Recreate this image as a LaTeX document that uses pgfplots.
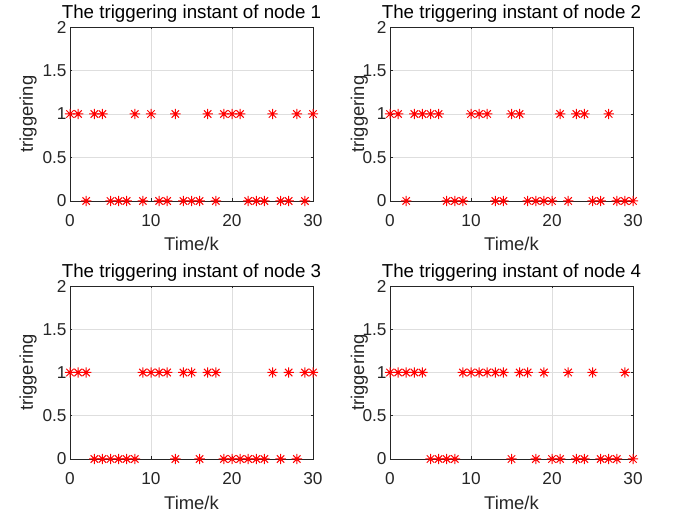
\documentclass[border=0pt]{standalone}
\usepackage{pgfplots}
\pgfplotsset{compat=1.18}
\usepackage{fontspec}
\setmainfont{Liberation Sans}
\definecolor{axgray}{rgb}{0.15,0.15,0.15}
\definecolor{gridgray}{rgb}{0.87,0.87,0.87}
\pgfdeclareplotmark{matast}{%
  \pgfpathmoveto{\pgfqpoint{-\pgfplotmarksize}{0pt}}%
  \pgfpathlineto{\pgfqpoint{\pgfplotmarksize}{0pt}}%
  \pgfpathmoveto{\pgfqpoint{0pt}{-\pgfplotmarksize}}%
  \pgfpathlineto{\pgfqpoint{0pt}{\pgfplotmarksize}}%
  \pgfpathmoveto{\pgfqpoint{-0.707\pgfplotmarksize}{-0.707\pgfplotmarksize}}%
  \pgfpathlineto{\pgfqpoint{0.707\pgfplotmarksize}{0.707\pgfplotmarksize}}%
  \pgfpathmoveto{\pgfqpoint{-0.707\pgfplotmarksize}{0.707\pgfplotmarksize}}%
  \pgfpathlineto{\pgfqpoint{0.707\pgfplotmarksize}{-0.707\pgfplotmarksize}}%
  \pgfusepathqstroke}
\pgfplotsset{trig/.style={
  scale only axis, width=243bp, height=174bp,
  xmin=0, xmax=30, ymin=0, ymax=2,
  xtick={0,10,20,30}, ytick={0,0.5,1,1.5,2},
  grid=major, major grid style={gridgray, line width=0.6bp},
  axis line style={axgray, line width=0.8bp},
  tick style={axgray, line width=0.8bp}, major tick length=2.5bp,
  tick align=inside,
  clip=false,
  /pgf/number format/assume math mode=true,
  tick label style={font=\fontsize{17.3}{20}\selectfont, text=axgray},
  xticklabel style={anchor=base, yshift=-26bp},
  label style={font=\fontsize{18.5}{22}\selectfont, text=axgray},
  title style={font=\fontsize{18.8}{22}\selectfont, text=black, anchor=base, at={(axis description cs:0.5,1)}, yshift=2.7bp},
  xlabel style={at={(axis description cs:0.5,0)}, anchor=base, yshift=-50bp},
  xlabel={Time/k}, ylabel={triggering},
},
trigmarks/.style={only marks, mark=matast, mark size=5.2bp, draw=red, color=red, line width=1bp, mark options={solid}}}
\begin{document}
\begin{tikzpicture}
\useasboundingbox (0,0) rectangle (673bp,517bp);
% node 1
\begin{axis}[trig, at={(70bp,316bp)}, anchor=south west,
  title={The triggering instant of node 1},
  ylabel style={at={([xshift=-37bp]axis description cs:0,0.5)}, anchor=base}]
\addplot[trigmarks] coordinates {(0,1)(1,1)(2,0)(3,1)(4,1)(5,0)(6,0)(7,0)(8,1)(9,0)(10,1)(11,0)(12,0)(13,1)(14,0)(15,0)(16,0)(17,1)(18,0)(19,1)(20,1)(21,1)(22,0)(23,0)(24,0)(25,1)(26,0)(27,0)(28,1)(29,0)(30,1)};
\end{axis}
% node 2
\begin{axis}[trig, at={(390bp,316bp)}, anchor=south west,
  title={The triggering instant of node 2},
  ylabel style={at={([xshift=-26bp]axis description cs:0,0.5)}, anchor=base}]
\addplot[trigmarks] coordinates {(0,1)(1,1)(2,0)(3,1)(4,1)(5,1)(6,1)(7,0)(8,0)(9,0)(10,1)(11,1)(12,1)(13,0)(14,0)(15,1)(16,1)(17,0)(18,0)(19,0)(20,0)(21,1)(22,0)(23,1)(24,1)(25,0)(26,0)(27,1)(28,0)(29,0)(30,0)};
\end{axis}
% node 3
\begin{axis}[trig, at={(70bp,58bp)}, anchor=south west, height=173bp,
  title={The triggering instant of node 3},
  ylabel style={at={([xshift=-37bp]axis description cs:0,0.5)}, anchor=base}]
\addplot[trigmarks] coordinates {(0,1)(1,1)(2,1)(3,0)(4,0)(5,0)(6,0)(7,0)(8,0)(9,1)(10,1)(11,1)(12,1)(13,0)(14,1)(15,1)(16,0)(17,1)(18,1)(19,0)(20,0)(21,0)(22,0)(23,0)(24,0)(25,1)(26,0)(27,1)(28,0)(29,1)(30,1)};
\end{axis}
% node 4
\begin{axis}[trig, at={(390bp,58bp)}, anchor=south west, height=173bp,
  title={The triggering instant of node 4},
  ylabel style={at={([xshift=-26bp]axis description cs:0,0.5)}, anchor=base}]
\addplot[trigmarks] coordinates {(0,1)(1,1)(2,1)(3,1)(4,1)(5,0)(6,0)(7,0)(8,0)(9,1)(10,1)(11,1)(12,1)(13,1)(14,1)(15,0)(16,1)(17,1)(18,0)(19,1)(20,0)(21,0)(22,1)(23,0)(24,0)(25,1)(26,0)(27,0)(28,0)(29,1)(30,0)};
\end{axis}
\end{tikzpicture}
\end{document}
